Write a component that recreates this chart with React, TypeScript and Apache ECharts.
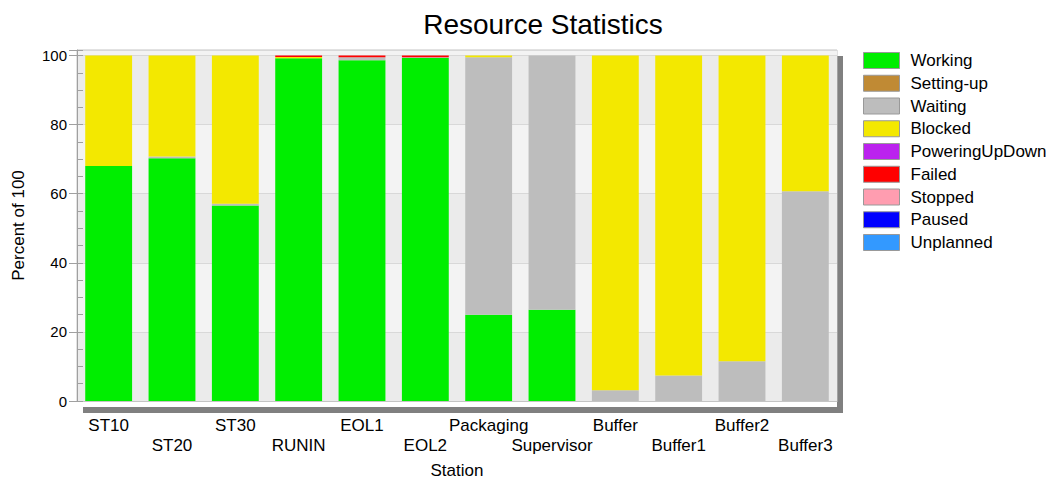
import React, { useEffect, useRef } from "react";
import * as echarts from "echarts";

const stations = ["ST10", "ST20", "ST30", "RUNIN", "EOL1", "EOL2", "Packaging", "Supervisor", "Buffer", "Buffer1", "Buffer2", "Buffer3"];
const stateNames = ["Working", "Setting-up", "Waiting", "Blocked", "PoweringUpDown", "Failed", "Stopped", "Paused", "Unplanned"];
const stateColors = ["#00ee00", "#c08a34", "#bdbdbd", "#f3e800", "#bb22ee", "#ff0000", "#ff9db0", "#0000ff", "#3399ff"];

const working = [68, 70.3, 56.6, 99.2, 98.6, 99.3, 25.0, 26.4, 0, 0, 0, 0];
const settingUp = [0, 0, 0, 0, 0, 0, 0, 0, 0, 0, 0, 0];
const waiting = [0, 0.5, 0.5, 0, 0.9, 0.2, 74.5, 73.6, 3.1, 7.4, 11.5, 60.7];
const blocked = [32, 29.2, 42.9, 0.4, 0, 0, 0.5, 0, 96.9, 92.6, 88.5, 39.3];
const poweringUpDown = [0, 0, 0, 0, 0, 0, 0, 0, 0, 0, 0, 0];
const failed = [0, 0, 0, 0.4, 0.5, 0.5, 0, 0, 0, 0, 0, 0];
const stopped = [0, 0, 0, 0, 0, 0, 0, 0, 0, 0, 0, 0];
const paused = [0, 0, 0, 0, 0, 0, 0, 0, 0, 0, 0, 0];
const unplanned = [0, 0, 0, 0, 0, 0, 0, 0, 0, 0, 0, 0];

const stateValues = [working, settingUp, waiting, blocked, poweringUpDown, failed, stopped, paused, unplanned];

const yTickLabels = [0, 20, 40, 60, 80, 100];

export default function App() {
  const ref = useRef<HTMLDivElement>(null);
  useEffect(() => {
    if (!ref.current) return;
    const chart = echarts.init(ref.current, undefined, { renderer: "svg" });
    const W = 1059, H = 484;
    const gl = 77, gr = 837, gt = 50, gb = 407;
    const font = "'Liberation Sans', Arial, sans-serif";
    chart.setOption({
      animation: false,
      backgroundColor: "#ffffff",
      textStyle: { fontFamily: font },
      title: {
        text: "Resource Statistics",
        left: 538,
        textAlign: "center",
        top: 5,
        textStyle: { fontSize: 28, fontWeight: "normal", color: "#000", fontFamily: font },
      },
      legend: {
        orient: "vertical",
        left: 858,
        top: 47,
        itemWidth: 36,
        itemHeight: 16,
        itemGap: 5.75,
        icon: "rect",
        data: stateNames,
        textStyle: { fontSize: 17, color: "#000", fontFamily: font, padding: [0, 0, 0, 6] },
        itemStyle: { borderColor: "#999", borderWidth: 1 },
        selectedMode: false,
      },
      graphic: [
        { type: "rect", z: -1, shape: { x: gl + 6, y: gb, width: gr - gl, height: 6 }, style: { fill: "#808080" } },
        { type: "rect", z: -1, shape: { x: gr, y: gt + 6, width: 6, height: gb - gt }, style: { fill: "#808080" } },
      ],
      grid: {
        left: gl,
        right: W - gr,
        top: gt,
        bottom: H - gb,
        show: true,
        backgroundColor: "#eeeeee",
        borderColor: "#c4c4c4",
        borderWidth: 1,
      },
      xAxis: [
        {
          type: "category",
          data: stations,
          position: "bottom",
          axisLine: { lineStyle: { color: "#a0a0a0" } },
          axisTick: { alignWithLabel: true, length: 13, lineStyle: { color: "#a0a0a0" } },
          axisLabel: {
            interval: 0,
            margin: 14,
            fontSize: 17,
            color: "#000",
            lineHeight: 20,
            fontFamily: font,
            formatter: (v: string, i: number) => (i % 2 === 1 ? "\n" + v : v),
          },
          name: "Station",
          nameLocation: "middle",
          nameGap: 61,
          nameTextStyle: { fontSize: 17, color: "#000", fontFamily: font },
        },
        {
          type: "category",
          data: stations,
          position: "top",
          axisLine: { lineStyle: { color: "#c4c4c4" } },
          axisTick: { alignWithLabel: true, inside: true, length: 5, lineStyle: { color: "#c4c4c4" } },
          axisLabel: { show: false },
        },
      ],
      yAxis: [
        {
          type: "value",
          min: 0,
          max: 101.6,
          interval: 20,
          position: "left",
          axisLine: { show: true, lineStyle: { color: "#a0a0a0" } },
          axisTick: { show: true, length: 8, lineStyle: { color: "#a0a0a0" } },
          axisLabel: {
            fontSize: 15,
            color: "#000",
            margin: 10,
            fontFamily: font,
            formatter: (v: number) => (yTickLabels.indexOf(v) >= 0 ? String(v) : ""),
          },
          splitLine: { show: true, lineStyle: { color: "#d8d8d8" } },
          splitArea: { show: true, areaStyle: { color: ["#ebebeb", "#f3f3f3"] } },
          name: "Percent of 100",
          nameLocation: "middle",
          nameGap: 50,
          nameTextStyle: { fontSize: 17, color: "#000", fontFamily: font },
        },
        {
          type: "value",
          min: 0,
          max: 101.6,
          interval: 5,
          position: "left",
          axisLine: { show: false },
          axisTick: { show: true, inside: true, length: 6, lineStyle: { color: "#a0a0a0" } },
          axisLabel: { show: false },
          splitLine: { show: false },
        },
      ],
      series: stateNames.map((name, i) => ({
        name,
        type: "bar",
        stack: "total",
        barWidth: "74%",
        xAxisIndex: 0,
        yAxisIndex: 0,
        data: stateValues[i],
        itemStyle: { color: stateColors[i] },
      })),
    });
    return () => chart.dispose();
  }, []);
  return <div ref={ref} style={{ position: "fixed", left: 0, top: 0, width: 1059, height: 484 }} />;
}
